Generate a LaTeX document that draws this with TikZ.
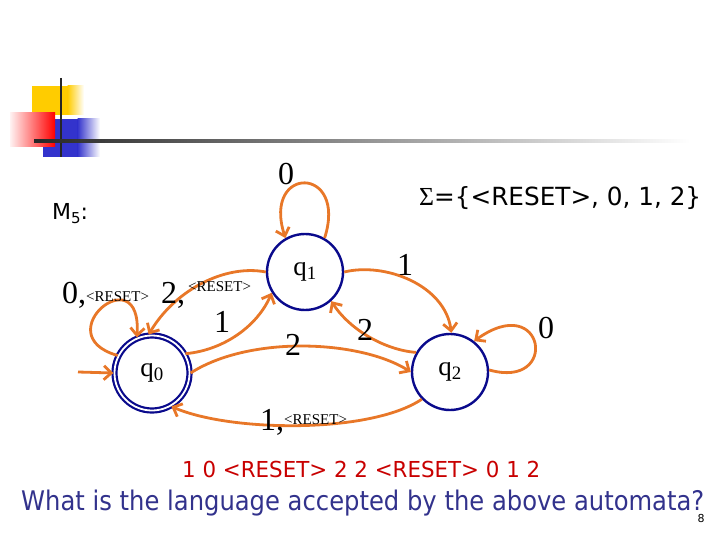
\documentclass[tikz,border=0pt]{standalone}
\usepackage{fontspec}
\setmainfont{Liberation Serif}
\newfontfamily\tah{DejaVu Sans}
\usetikzlibrary{arrows.meta}
\definecolor{edgec}{RGB}{232,119,40}
\definecolor{statec}{RGB}{10,10,140}
\definecolor{redtxt}{RGB}{200,0,0}
\definecolor{bluetxt}{RGB}{50,50,140}
\definecolor{yel}{RGB}{255,204,0}
\definecolor{blu}{RGB}{51,51,204}
\newcommand{\smallreset}{{\fontsize{15}{15}\selectfont <RESET>}}
\begin{document}
\begin{tikzpicture}[x=1pt,y=-1pt,
  state/.style={circle,draw=statec,line width=2.4pt,minimum size=76pt,inner sep=0pt,
    font=\fontsize{27}{27}\selectfont},
  accept/.style={state,double=white,double distance=1.8pt,line width=2.2pt,minimum size=75pt},
  trans/.style={draw=edgec,line width=2.8pt,-{Straight Barb[length=7.5pt,width=14pt]}},
  lab/.style={inner sep=0pt,font=\fontsize{32}{32}\selectfont},
  sans/.style={inner sep=0pt,anchor=base west}]
\useasboundingbox (0,0) rectangle (720,540);
% decoration
\fill[yel] (32,86) rectangle (68,115);
\shade[left color=yel,right color=white] (67.5,86) rectangle (84,115);
\fill[blu] (43,119) rectangle (78,157);
\shade[left color=blu,right color=white] (77.5,119) rectangle (100,157);
\shade[left color=red!5,right color=red] (10,113) rectangle (55,147);
\draw[black!85,line width=2.5pt] (61,78) -- (61,157);
\shade[left color=black!85,right color=white] (34,139.5) rectangle (690,142.5);
% states
\node[accept] (q0) at (152,373) {q\textsubscript{0}};
\node[state] (q1) at (305,272) {q\textsubscript{1}};
\node[state] (q2) at (450,372) {q\textsubscript{2}};
\coordinate (init) at (78,372);
% transitions
\draw[trans] (init) -- (q0.west);
\draw[trans] (q1.60) .. controls (348,165) and (262,165) .. (q1.120);
\draw[trans] (q0.153) .. controls (45,335) and (142,255) .. (q0.113);
\draw[trans] (q1.180) .. controls (225,264) and (175,290) .. (q0.95);
\draw[trans] (q0.30) .. controls (225,350) and (258,325) .. (q1.212);
\draw[trans] (q0.east) .. controls (250,335) and (360,340) .. (q2.west);
\draw[trans] (q2.150) .. controls (385,350) and (350,330) .. (q1.312);
\draw[trans] (q1.east) .. controls (385,262) and (445,285) .. (q2.88);
\draw[trans] (q2.3) .. controls (560,390) and (545,290) .. (q2.52);
\draw[trans] (q2.224) .. controls (370,434) and (230,432) .. (q0.300);
% labels
\node[lab] (l1) at (286,174) {0};
\node[lab,anchor=base west] (l0) at (62,303) {0,\raisebox{2pt}{\smallreset}};
\node[lab,anchor=base west] (l10) at (161,303) {2,\hspace{3pt}\raisebox{12pt}{\smallreset}};
\node[lab] (l01) at (222,322) {1};
\node[lab] (l02) at (293,345) {2};
\node[lab] (l21) at (365,330) {2};
\node[lab] (l12) at (405,265) {1};
\node[lab] (l2) at (546,328) {0};
\node[lab,anchor=base west] (l20) at (260,430) {1,\raisebox{6pt}{\smallreset}};
% texts
\node[sans] (m5) at (52,219) {\tah\fontsize{22}{22}\selectfont M\raisebox{-4pt}{\fontsize{15}{15}\selectfont 5}:};
\node[sans] (sig) at (419,206) {\resizebox{282pt}{\height}{{\fontsize{26}{26}\selectfont Σ}{\tah\fontsize{25}{25}\selectfont =\{<RESET>, 0, 1, 2\}}}};
\node[sans,text=redtxt] (seq) at (182,477) {\resizebox{358pt}{\height}{\tah\fontsize{22}{22}\selectfont 1 0 <RESET> 2 2 <RESET> 0 1 2}};
\node[sans,text=bluetxt] (ques) at (21,510) {\resizebox{683pt}{\height}{\tah\fontsize{27}{27}\selectfont What is the language accepted by the above automata?}};
\node[inner sep=0pt,font=\tah\fontsize{11}{11}\selectfont] (pg) at (701,518) {8};
\end{tikzpicture}
\end{document}
